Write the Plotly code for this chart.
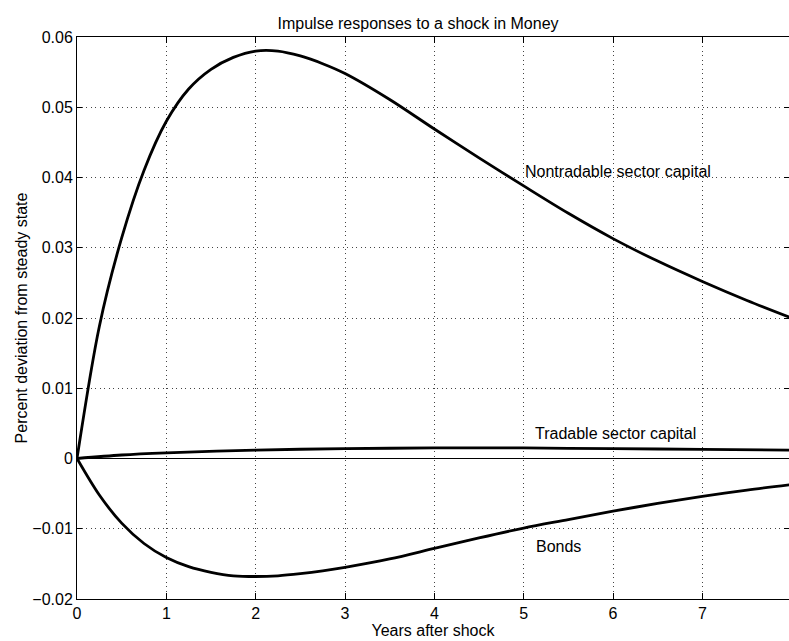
import plotly.graph_objects as go

# Years after shock
t_nontrad = [0, 0.25, 0.5, 0.75, 1.0, 1.25, 1.5, 1.75, 2.0, 2.25, 2.5, 2.75, 3.0, 3.5, 4.0, 4.5, 5.0, 5.5, 6.0, 6.5, 7.0, 7.5, 8.0]
nontradable = [0, 0.0188, 0.0314, 0.0410, 0.0480, 0.0526, 0.0554, 0.0571, 0.0580, 0.0580, 0.0573, 0.0562, 0.0548, 0.0511, 0.0469, 0.0428, 0.0388, 0.0349, 0.0313, 0.0281, 0.0252, 0.0225, 0.0200]

t_trad = [0, 0.5, 1, 2, 3, 4, 5, 6, 7, 8]
tradable = [0, 0.0005, 0.0008, 0.0012, 0.0014, 0.0015, 0.0015, 0.0014, 0.0013, 0.0012]

t_bonds = [0, 0.25, 0.5, 0.75, 1.0, 1.25, 1.5, 1.75, 2.0, 2.25, 2.5, 2.75, 3.0, 3.5, 4.0, 4.5, 5.0, 5.5, 6.0, 6.5, 7.0, 7.5, 8.0]
bonds = [0, -0.0052, -0.0092, -0.0121, -0.0141, -0.0154, -0.0162, -0.0167, -0.0168, -0.0167, -0.0164, -0.0160, -0.0155, -0.0143, -0.0128, -0.0113, -0.0099, -0.0087, -0.0075, -0.0064, -0.0054, -0.0045, -0.0037]

y_ticks = [-0.02, -0.01, 0, 0.01, 0.02, 0.03, 0.04, 0.05, 0.06]
x_ticks = [0, 1, 2, 3, 4, 5, 6, 7]

labels = ["Nontradable sector capital", "Tradable sector capital", "Bonds"]
label_x = [4.99, 5.1, 5.12]
label_y = [0.0408, 0.0036, -0.0125]

FONT = "Liberation Sans, Arial, Helvetica, sans-serif"
SZ = 16
fig = go.Figure()
line = dict(color="black", width=2.8, shape="spline", smoothing=0.9)
fig.add_trace(go.Scatter(x=t_nontrad, y=nontradable, mode="lines", line=line, showlegend=False))
fig.add_trace(go.Scatter(x=t_trad, y=tradable, mode="lines", line=line, showlegend=False))
fig.add_trace(go.Scatter(x=t_bonds, y=bonds, mode="lines", line=line, showlegend=False))

for txt, xx, yy in zip(labels, label_x, label_y):
    fig.add_annotation(x=xx, y=yy, text=txt, showarrow=False, xanchor="left", yanchor="middle",
                       font=dict(family=FONT, size=SZ, color="black"))

fig.update_layout(
    width=789, height=641,
    margin=dict(l=77, r=0, t=37, b=42),
    paper_bgcolor="white", plot_bgcolor="white",
    font=dict(family=FONT, size=SZ, color="black"),
    title=dict(text="Impulse responses to a shock in Money", x=0.479, xref="paper", xanchor="center",
               y=1, yref="paper", yanchor="bottom", pad=dict(b=8),
               font=dict(family=FONT, size=SZ, color="black")),
)
grid = dict(showgrid=True, gridcolor="#444", gridwidth=1, griddash="1px,3.5px")
fig.update_xaxes(
    range=[0, 7.97], tickvals=x_ticks, ticks="inside", ticklen=6, tickcolor="black",
    showline=True, linecolor="black", linewidth=1, mirror="ticks", zeroline=False,
    title=dict(text="Years after shock", standoff=2, font=dict(size=SZ)),
    tickfont=dict(size=SZ), **grid,
)
fig.update_yaxes(
    range=[-0.02, 0.06], tickvals=y_ticks, ticks="inside", ticklen=5, tickcolor="black",
    showline=True, linecolor="black", linewidth=1, mirror="ticks",
    zeroline=True, zerolinecolor="black", zerolinewidth=1,
    title=dict(text="Percent deviation from steady state", standoff=0, font=dict(size=SZ)),
    tickfont=dict(size=SZ), **grid,
)
fig.write_html("out.html")
